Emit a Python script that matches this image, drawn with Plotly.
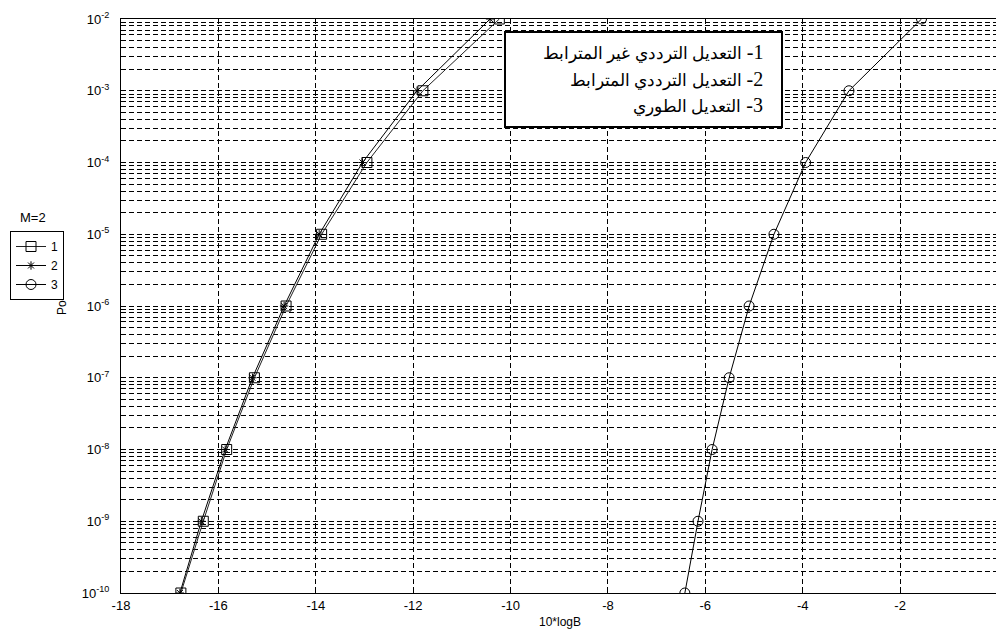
import plotly.graph_objects as go

# ---- data ----
po_values = [1e-10, 1e-9, 1e-8, 1e-7, 1e-6, 1e-5, 1e-4, 1e-3, 1e-2]
x_series1 = [-16.77, -16.31, -15.83, -15.26, -14.61, -13.88, -12.95, -11.80, -10.23]
x_series2 = [-16.79, -16.35, -15.86, -15.30, -14.65, -13.93, -13.04, -11.92, -10.42]
x_series3 = [-6.42, -6.15, -5.86, -5.51, -5.10, -4.59, -3.94, -3.05, -1.56]

legend_names = ["1", "2", "3"]
legend_title = "M=2"
box_numbers = ["1-", "2-", "3-"]
box_lines = [
    "التعديل الترددي غير المترابط",
    "التعديل الترددي المترابط",
    "التعديل الطوري",
]

x_tickvals = [-18, -16, -14, -12, -10, -8, -6, -4, -2]
x_ticktext = ["-18", "-16", "-14", "-12", "-10", "-8", "-6", "-4", "-2"]
decades = list(range(-10, -1))
y_tickvals = []
y_ticktext = []
for d in decades:
    for m in range(1, 10):
        if d == -2 and m > 1:
            break
        y_tickvals.append(m * 10.0 ** d)
        y_ticktext.append(f"10<sup>{d}</sup>" if m == 1 else "")

x_title = "10*logB"
y_title = "Po"

# ---- figure ----
W, H = 996, 636
L, R, T, B = 121, 0, 19, 43
pw, ph = W - L - R, H - T - B

def px(xp):
    return (xp - L) / pw

def py(yp):
    return 1 - (yp - T) / ph

fig = go.Figure()
line = dict(color="black", width=1)
fig.add_trace(go.Scatter(x=x_series1, y=po_values, name=legend_names[0], mode="lines+markers",
                         line=dict(color="#222", width=1),
                         marker=dict(symbol="square-open", size=10, color="black", line=dict(width=1))))
fig.add_trace(go.Scatter(x=x_series2, y=po_values, name=legend_names[1], mode="lines+markers",
                         line=line,
                         marker=dict(symbol="asterisk-open", size=7, color="black", line=dict(width=1, color="black"))))
fig.add_trace(go.Scatter(x=x_series3, y=po_values, name=legend_names[2], mode="lines+markers",
                         line=line,
                         marker=dict(symbol="circle-open", size=10, color="black", line=dict(width=1))))

font = dict(family="Liberation Sans, Arial, sans-serif", size=12, color="black")
tfont = dict(family="Liberation Sans, Arial, sans-serif", size=13, color="black")

fig.update_layout(
    width=W, height=H,
    margin=dict(l=L, r=R, t=T, b=B, pad=0, autoexpand=False),
    paper_bgcolor="white", plot_bgcolor="white",
    font=font,
    showlegend=True,
    legend=dict(x=px(10), y=py(231), xanchor="left", yanchor="top",
                bgcolor="white", bordercolor="black", borderwidth=1,
                font=dict(family="Liberation Sans, Arial, sans-serif", size=12, color="black"),
                tracegroupgap=0, itemwidth=30),
    xaxis=dict(range=[-18, -0.03], tickmode="array", tickvals=x_tickvals, ticktext=x_ticktext,
               showgrid=True, gridcolor="black", gridwidth=1, griddash="5px,3px",
               showline=True, linecolor="black", linewidth=1, mirror=True,
               ticks="inside", ticklen=4, tickcolor="black", zeroline=False,
               tickfont=tfont),
    yaxis=dict(type="log", range=[-10, -2], tickmode="array", tickvals=y_tickvals, ticktext=y_ticktext,
               showgrid=True, gridcolor="black", gridwidth=1, griddash="5px,3px",
               showline=True, linecolor="black", linewidth=1,
               ticks="", zeroline=False, ticklabelstandoff=8,
               tickfont=tfont),
)

# box with Arabic text
fig.add_shape(type="rect", xref="paper", yref="paper",
              x0=px(505), x1=px(782), y0=py(127), y1=py(32),
              line=dict(color="black", width=2), fillcolor="white", layer="above")
for i, (num, txt) in enumerate(zip(box_numbers, box_lines)):
    fig.add_annotation(xref="paper", yref="paper", x=px(765), y=py(53 + 26.5 * i),
                       xanchor="right", yanchor="middle", align="right", showarrow=False,
                       text="\u202B" + num + " <span style='font-size:17px'>" + txt + "</span>\u202C",
                       font=dict(family="Liberation Serif, DejaVu Serif, serif", size=20, color="black"))

# legend title and axis titles
fig.add_annotation(xref="paper", yref="paper", x=px(33), y=py(218), xanchor="center", yanchor="middle",
                   showarrow=False, text=legend_title,
                   font=dict(family="Liberation Sans, Arial, sans-serif", size=13, color="black"))
fig.add_annotation(xref="paper", yref="paper", x=px(62), y=py(307), xanchor="center", yanchor="middle",
                   showarrow=False, text=y_title, textangle=-90, font=font)
fig.add_annotation(xref="paper", yref="paper", x=px(560), y=py(622), xanchor="center", yanchor="middle",
                   showarrow=False, text=x_title, font=font)

fig.write_html("out.html", config={"displayModeBar": False},
               post_script="document.body.style.margin='0';document.body.style.overflow='hidden';")
